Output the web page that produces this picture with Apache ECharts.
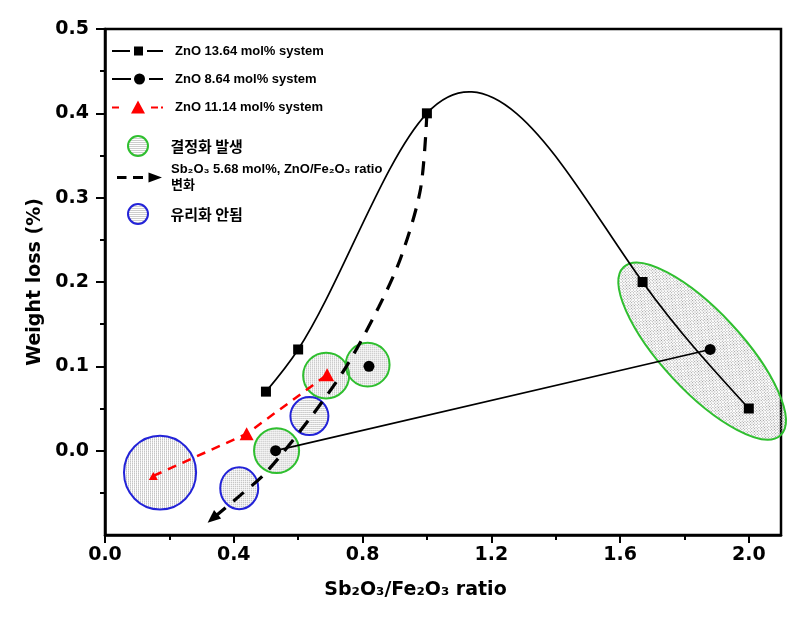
<!DOCTYPE html>
<html><head><meta charset="utf-8">
<script src="https://cdn.jsdelivr.net/npm/echarts@6/dist/echarts.min.js"></script>
<style>html,body{margin:0;padding:0;background:#fff}#c{width:804px;height:626px}</style>
</head><body><div id="c"></div>
<script>
// ---- axis ticks ----
const xTickValues = [0.0, 0.4, 0.8, 1.2, 1.6, 2.0];
const xMinorTickValues = [0.2, 0.6, 1.0, 1.4, 1.8];
const yTickValues = [0.0, 0.1, 0.2, 0.3, 0.4, 0.5];

// ---- series names ----
const nameZnO1364 = 'ZnO 13.64 mol% system';
const nameZnO864 = 'ZnO 8.64 mol% system';
const nameZnO1114 = 'ZnO 11.14 mol% system';
const nameCrystal = '결정화 발생';
const nameArrow = 'Sb₂O₃ 5.68 mol%, ZnO/Fe₂O₃ ratio 변화';
const nameGlass = '유리화 안됨';

// ---- data ----
const zno1364X = [0.50, 0.60, 1.00, 1.67, 2.00];
const zno1364Y = [0.07, 0.12, 0.40, 0.20, 0.05];

const zno864LineX = [0.53, 1.88];
const zno864LineY = [0.00, 0.12];
const zno864ExtraX = [0.82];
const zno864ExtraY = [0.10];

const zno1114X = [0.15, 0.44, 0.69];
const zno1114Y = [-0.03, 0.02, 0.09];

// dashed arrow path (Sb2O3 5.68 mol%)
const arrowPathX = [1.00, 0.98, 0.92, 0.85, 0.75, 0.64, 0.50, 0.42, 0.32];
const arrowPathY = [0.40, 0.31, 0.23, 0.17, 0.10, 0.04, -0.026, -0.053, -0.085];

// annotation ellipses: centre (x,y), semi-axes in axis units, tilt (deg, clockwise)
const crystalX = [0.533, 0.687, 0.816, 1.855];
const crystalY = [0.000, 0.089, 0.102, 0.118];
const crystalRX = [0.070, 0.0715, 0.068, 0.357];
const crystalRY = [0.0266, 0.0272, 0.026, 0.0473];
const crystalTilt = [0, 0, 0, 47];

const glassX = [0.171, 0.635, 0.417];
const glassY = [-0.026, 0.041, -0.0445];
const glassRX = [0.112, 0.059, 0.059];
const glassRY = [0.0438, 0.0225, 0.0249];
const glassTilt = [0, 0, 0];

// ---- helpers ----
const zip = (xs, ys) => xs.map((x, i) => [x, ys[i]]);
const GREEN = '#2fbf2f', BLUE = '#2323d8', RED = '#ff0000';
const AXFONT = 'DejaVu Sans';

function makeDots() {
  const c = document.createElement('canvas');
  c.width = 2; c.height = 2;
  const g = c.getContext('2d');
  g.fillStyle = '#9a9a9a';
  g.fillRect(0, 0, 1, 1);
  return c;
}
const dotFill = { image: makeDots(), repeat: 'repeat' };

// natural cubic spline slopes (for the Origin-style spline connection)
function splineSlopes(xs, ys) {
  const n = xs.length, h = [], d = [];
  for (let i = 0; i < n - 1; i++) { h[i] = xs[i + 1] - xs[i]; d[i] = (ys[i + 1] - ys[i]) / h[i]; }
  const M = new Array(n).fill(0);
  if (n > 2) {
    const a = [], b = [], c = [], r = [];
    for (let i = 1; i < n - 1; i++) {
      a.push(h[i - 1]); b.push(2 * (h[i - 1] + h[i])); c.push(h[i]); r.push(6 * (d[i] - d[i - 1]));
    }
    const m = b.length;
    for (let i = 1; i < m; i++) {
      const w = a[i] / b[i - 1];
      b[i] -= w * c[i - 1]; r[i] -= w * r[i - 1];
    }
    const sol = new Array(m);
    sol[m - 1] = r[m - 1] / b[m - 1];
    for (let i = m - 2; i >= 0; i--) sol[i] = (r[i] - c[i] * sol[i + 1]) / b[i];
    for (let i = 0; i < m; i++) M[i + 1] = sol[i];
  }
  const s = [];
  for (let i = 0; i < n - 1; i++) s[i] = d[i] - h[i] * (2 * M[i] + M[i + 1]) / 6;
  s[n - 1] = d[n - 2] + h[n - 2] * (M[n - 2] + 2 * M[n - 1]) / 6;
  return s;
}

function ellipseRender(stroke) {
  return function (params, api) {
    const c = api.coord([api.value(0), api.value(1)]);
    const rx = Math.abs(api.size([api.value(2), 0])[0]);
    const ry = Math.abs(api.size([0, api.value(3)])[1]);
    const k = 0.5523;
    const d = `M${-rx},0 C${-rx},${-ry * k} ${-rx * k},${-ry} 0,${-ry} C${rx * k},${-ry} ${rx},${-ry * k} ${rx},0 C${rx},${ry * k} ${rx * k},${ry} 0,${ry} C${-rx * k},${ry} ${-rx},${ry * k} ${-rx},0 Z`;
    return {
      type: 'path', x: c[0], y: c[1], rotation: -api.value(4) * Math.PI / 180,
      shape: { pathData: d },
      style: { fill: dotFill, stroke: stroke, lineWidth: 2 }
    };
  };
}

function arrowData(angle, offset) {
  const n = arrowPathX.length;
  return arrowPathX.map((x, i) => i === n - 1
    ? { value: [x, arrowPathY[i]], symbol: 'triangle', symbolSize: [11, 13], symbolRotate: angle, symbolOffset: offset }
    : [x, arrowPathY[i]]);
}

const iconSquare = 'path://M0,5h18v2h-18z M22,1.5h9v9h-9z M35,5h16v2h-16z';
const iconCircle = 'path://M0,5h19v2h-19z M33,6a5.5,5.5 0 1,0 -11,0a5.5,5.5 0 1,0 11,0z M37,5h14v2h-14z';
const iconTri = 'path://M0,6h7v2h-7z M19,13L26,0L33,13z M39,6h7v2h-7z M49,6h2v2h-2z';
const iconArrow = 'path://M0,3.5h9.5v3h-9.5z M16,3.5h10v3h-10z M31.5,0L45,5L31.5,10z';

const legendText = { fontFamily: 'Liberation Sans, Arial, Noto Sans CJK KR, sans-serif', fontWeight: 'bold', fontSize: 13, color: '#000' };

const option = {
  animation: false,
  backgroundColor: '#fff',
  grid: { left: 105, right: 23, top: 29, bottom: 91, show: true, borderColor: '#000', borderWidth: 2.5, containLabel: false, outerBoundsMode: 'none' },
  legend: [
    {
      left: 112, top: 44, orient: 'vertical', padding: 0, itemWidth: 51, itemHeight: 14, itemGap: 14, selectedMode: false,
      textStyle: Object.assign({}, legendText, { lineHeight: 14, padding: [0, 0, 0, 7] }),
      data: [
        { name: nameZnO1364, icon: iconSquare, itemStyle: { color: '#000', opacity: 1 } },
        { name: nameZnO864, icon: iconCircle, itemStyle: { color: '#000', opacity: 1 } },
        { name: nameZnO1114, icon: iconTri, itemStyle: { color: RED, opacity: 1 } }
      ]
    },
    {
      left: 127, top: 135, orient: 'vertical', padding: 0, itemWidth: 51, itemHeight: 20, selectedMode: false,
      textStyle: { fontFamily: 'Noto Sans CJK KR', fontWeight: 'bold', fontSize: 15, color: '#000', padding: [0, 0, 0, 2] },
      data: [{ name: nameCrystal, icon: 'circle', itemStyle: { color: dotFill, borderColor: GREEN, borderWidth: 2 } }]
    },
    {
      left: 117, top: 161, orient: 'vertical', padding: 0, itemWidth: 45, itemHeight: 12, selectedMode: false,
      formatter: n => n.replace(' 변화', '\n변화'),
      textStyle: Object.assign({}, legendText, { lineHeight: 16.5, padding: [0, 0, 0, 4] }),
      data: [{ name: nameArrow, icon: iconArrow, itemStyle: { color: '#000' } }]
    },
    {
      left: 127, top: 203, orient: 'vertical', padding: 0, itemWidth: 51, itemHeight: 20, selectedMode: false,
      textStyle: { fontFamily: 'Noto Sans CJK KR', fontWeight: 'bold', fontSize: 15, color: '#000', padding: [0, 0, 0, 2] },
      data: [{ name: nameGlass, icon: 'circle', itemStyle: { color: dotFill, borderColor: BLUE, borderWidth: 2 } }]
    }
  ],
  xAxis: [
    {
      type: 'value', min: 0, max: 2.1, interval: 0.4, position: 'bottom', offset: 0,
      axisLine: { show: true, onZero: false, lineStyle: { color: '#000', width: 2.5 } },
      axisTick: { show: true, customValues: xTickValues, length: 8, lineStyle: { color: '#000', width: 2 } },
      axisLabel: { customValues: xTickValues, formatter: v => v.toFixed(1), margin: 11, fontFamily: AXFONT, fontSize: 19, fontWeight: 'bold', color: '#000' },
      splitLine: { show: false },
      name: 'Sb₂O₃/Fe₂O₃ ratio', nameLocation: 'middle', nameGap: 46,
      nameTextStyle: { fontFamily: AXFONT, fontSize: 19, fontWeight: 'bold', color: '#000', padding: [0, 55, 0, 0] }
    },
    {
      type: 'value', min: 0, max: 2.1, position: 'bottom', offset: 0,
      axisLine: { show: false, onZero: false },
      axisTick: { show: true, customValues: xMinorTickValues, length: 5, lineStyle: { color: '#000', width: 2 } },
      axisLabel: { show: false }, splitLine: { show: false }
    }
  ],
  yAxis: {
    type: 'value', min: -0.1, max: 0.5, interval: 0.1,
    axisLine: { show: true, onZero: false, lineStyle: { color: '#000', width: 2.5 } },
    axisTick: { show: true, customValues: yTickValues, length: 9, lineStyle: { color: '#000', width: 2 } },
    minorTick: { show: true, splitNumber: 2, length: 5, lineStyle: { color: '#000', width: 2 } },
    axisLabel: { customValues: yTickValues, formatter: v => v.toFixed(1), margin: 16, fontFamily: AXFONT, fontSize: 19, fontWeight: 'bold', color: '#000' },
    splitLine: { show: false }, minorSplitLine: { show: false },
    name: 'Weight loss (%)', nameLocation: 'middle', nameGap: 54, nameRotate: 90,
    nameTextStyle: { fontFamily: AXFONT, fontSize: 19, fontWeight: 'bold', color: '#000' }
  },
  series: [
    {
      name: nameCrystal, type: 'custom', z: 1, itemStyle: { color: GREEN },
      data: crystalX.map((x, i) => [x, crystalY[i], crystalRX[i], crystalRY[i], crystalTilt[i]]),
      encode: { x: 0, y: 1 }, renderItem: ellipseRender(GREEN)
    },
    {
      name: nameGlass, type: 'custom', z: 1, itemStyle: { color: BLUE },
      data: glassX.map((x, i) => [x, glassY[i], glassRX[i], glassRY[i], glassTilt[i]]),
      encode: { x: 0, y: 1 }, renderItem: ellipseRender(BLUE)
    },
    {
      name: 'spline-13.64', type: 'custom', z: 3,
      data: zip(zno1364X, zno1364Y), encode: { x: 0, y: 1 },
      renderItem: function (params, api) {
        if (params.dataIndex !== 0) return null;
        const s = splineSlopes(zno1364X, zno1364Y);
        let p = api.coord([zno1364X[0], zno1364Y[0]]);
        let d = `M${p[0]},${p[1]}`;
        for (let i = 0; i < zno1364X.length - 1; i++) {
          const h = zno1364X[i + 1] - zno1364X[i];
          const c1 = api.coord([zno1364X[i] + h / 3, zno1364Y[i] + s[i] * h / 3]);
          const c2 = api.coord([zno1364X[i + 1] - h / 3, zno1364Y[i + 1] - s[i + 1] * h / 3]);
          const e = api.coord([zno1364X[i + 1], zno1364Y[i + 1]]);
          d += ` C${c1[0]},${c1[1]} ${c2[0]},${c2[1]} ${e[0]},${e[1]}`;
        }
        return { type: 'path', shape: { pathData: d }, style: { fill: 'none', stroke: '#000', lineWidth: 1.7 } };
      }
    },
    {
      name: nameZnO1364, type: 'scatter', z: 5, symbol: 'rect', symbolSize: 10,
      itemStyle: { color: '#000', opacity: 1 }, data: zip(zno1364X, zno1364Y)
    },
    {
      name: nameZnO864, type: 'line', z: 4, symbol: 'circle', symbolSize: 11, showSymbol: true,
      itemStyle: { color: '#000', opacity: 1 }, lineStyle: { color: '#000', width: 1.7 },
      data: zip(zno864LineX, zno864LineY)
    },
    {
      name: nameZnO864, type: 'scatter', z: 5, symbol: 'circle', symbolSize: 11,
      itemStyle: { color: '#000', opacity: 1 }, data: zip(zno864ExtraX, zno864ExtraY)
    },
    {
      name: nameZnO1114, type: 'line', z: 4, symbol: 'triangle', showSymbol: true,
      symbolSize: (v, p) => p.dataIndex === 0 ? [9, 8] : [14, 13],
      itemStyle: { color: RED, opacity: 1 }, lineStyle: { color: RED, width: 2.5, type: [9, 7] },
      data: zip(zno1114X, zno1114Y)
    },
    {
      id: 'arrow', name: nameArrow, type: 'line', z: 4, symbol: 'none', showSymbol: true, smooth: 0.3,
      itemStyle: { color: '#000', opacity: 1 }, lineStyle: { color: '#000', width: 3.2, type: [14, 10] },
      data: arrowData(0, [0, 0])
    }
  ]
};

const chart = echarts.init(document.getElementById('c'), null, { renderer: 'canvas' });
chart.setOption(option);
(function () {
  const n = arrowPathX.length;
  const a = chart.convertToPixel({ xAxisIndex: 0, yAxisIndex: 0 }, [arrowPathX[n - 2], arrowPathY[n - 2]]);
  const b = chart.convertToPixel({ xAxisIndex: 0, yAxisIndex: 0 }, [arrowPathX[n - 1], arrowPathY[n - 1]]);
  const dx = b[0] - a[0], dy = b[1] - a[1];
  const len = Math.hypot(dx, dy) || 1;
  const ang = Math.atan2(-dy, dx) * 180 / Math.PI - 90;
  const off = [-dx / len * 6, -dy / len * 6];
  chart.setOption({ series: [{ id: 'arrow', data: arrowData(ang, off) }] });
})();
</script>
</body></html>
